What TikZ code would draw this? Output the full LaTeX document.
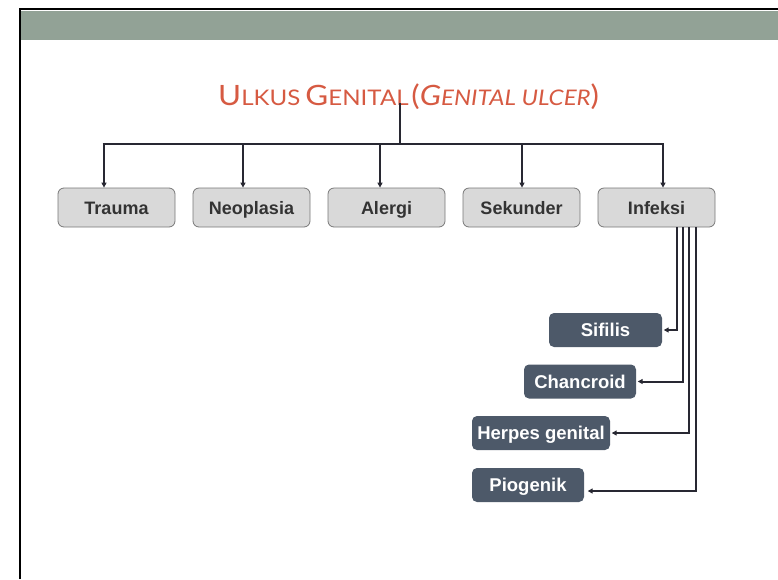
\documentclass[tikz,border=0pt]{standalone}
\usepackage{fontspec}
\setmainfont{Liberation Sans}
\newfontfamily\titlefont{Lato}
\usetikzlibrary{arrows.meta}
\definecolor{band}{RGB}{146,162,150}
\definecolor{titlered}{RGB}{214,90,66}
\definecolor{wire}{RGB}{40,40,50}
\definecolor{lightfill}{RGB}{217,217,217}
\definecolor{lightedge}{RGB}{120,120,120}
\definecolor{slate}{RGB}{77,89,105}
\definecolor{boxtext}{RGB}{51,51,51}
\tikzset{
  catbox/.style={draw=lightedge, fill=lightfill, rounded corners=6pt, line width=0.8pt,
    minimum width=117pt, minimum height=39pt, inner sep=0pt,
    text height=13pt, text depth=0pt,
    font=\fontsize{18}{20}\selectfont\bfseries, text=boxtext},
  subbox/.style={fill=slate, rounded corners=5pt, minimum height=34pt, inner sep=0pt,
    text height=13.5pt, text depth=0pt,
    font=\fontsize{18.5}{20}\selectfont\bfseries, text=white},
  trunk/.style={draw=wire, line width=2.6pt},
  branch/.style={draw=wire, line width=1.8pt, -{Triangle[length=5pt,width=5pt]}},
  fork/.style={draw=wire, line width=2pt, -{Triangle[length=5pt,width=5pt]}}
}
% fake small capitals: large initial, smaller remaining capitals
\newcommand{\ttlcapital}[1]{{\fontsize{28}{30}\selectfont #1}}
\newcommand{\ttlsmall}[1]{{\fontsize{21.5}{30}\selectfont #1}}
\begin{document}
\begin{tikzpicture}[x=1pt,y=-1pt]
  \useasboundingbox (0,0) rectangle (778,579);
  % header band and frame
  \fill[band] (21,11) rectangle (778,40);
  \draw[black, line width=2.2pt] (20,579) -- (20,9) -- (778,9);

  % title
  \node[anchor=base west, inner sep=0pt, text=titlered, font=\titlefont] (title) at (218,105)
    {\scalebox{1.12}[1]{\ttlcapital{U}\ttlsmall{LKUS}\hspace{2pt} \ttlcapital{G}\ttlsmall{ENITAL} \ttlcapital{(}\textit{\ttlcapital{G}\ttlsmall{ENITAL ULCER}}\ttlcapital{)}}};

  % first level
  \node[catbox] (trauma)    at (116.5,207.5) {Trauma};
  \node[catbox] (neoplasia) at (251.5,207.5) {Neoplasia};
  \node[catbox] (alergi)    at (386.5,207.5) {Alergi};
  \node[catbox] (sekunder)  at (521.5,207.5) {Sekunder};
  \node[catbox] (infeksi)   at (656.5,207.5) {Infeksi};

  % trunk from the title to the bar
  \coordinate (stem) at (400,103);
  \coordinate (hub) at (400,144);
  \coordinate (j1) at (104,144);
  \coordinate (j2) at (243,144);
  \coordinate (j3) at (380,144);
  \coordinate (j4) at (522,144);
  \coordinate (j5) at (663,144);
  \draw[trunk] (stem) -- (hub);
  \draw[trunk] ([xshift=-1.3pt]j1) -- ([xshift=1.3pt]j5);
  \draw[branch] (j1) -- (j1 |- trauma.north);
  \draw[branch] (j2) -- (j2 |- neoplasia.north);
  \draw[branch] (j3) -- (j3 |- alergi.north);
  \draw[branch] (j4) -- (j4 |- sekunder.north);
  \draw[branch] (j5) -- (j5 |- infeksi.north);

  % infections
  \node[subbox, minimum width=113pt] (sifilis)   at (605.5,330) {Sifilis};
  \node[subbox, minimum width=112pt] (chancroid) at (580,381.5) {Chancroid};
  \node[subbox, minimum width=138pt] (herpes)    at (541,433) {Herpes genital};
  \node[subbox, minimum width=112pt] (piogenik)  at (528,485) {Piogenik};

  \coordinate (f1) at (677,227);
  \coordinate (f2) at (683,227);
  \coordinate (f3) at (689,227);
  \coordinate (f4) at (695.5,227);
  \draw[fork, shorten >=1.5pt] (f1) |- (sifilis.east);
  \draw[fork, shorten >=1.5pt] (f2) |- (chancroid.east);
  \draw[fork, shorten >=1.5pt] (f3) |- (herpes.east);
  \draw[fork, shorten >=3.5pt] (f4) |- (piogenik.east |- 0,491);
\end{tikzpicture}
\end{document}
